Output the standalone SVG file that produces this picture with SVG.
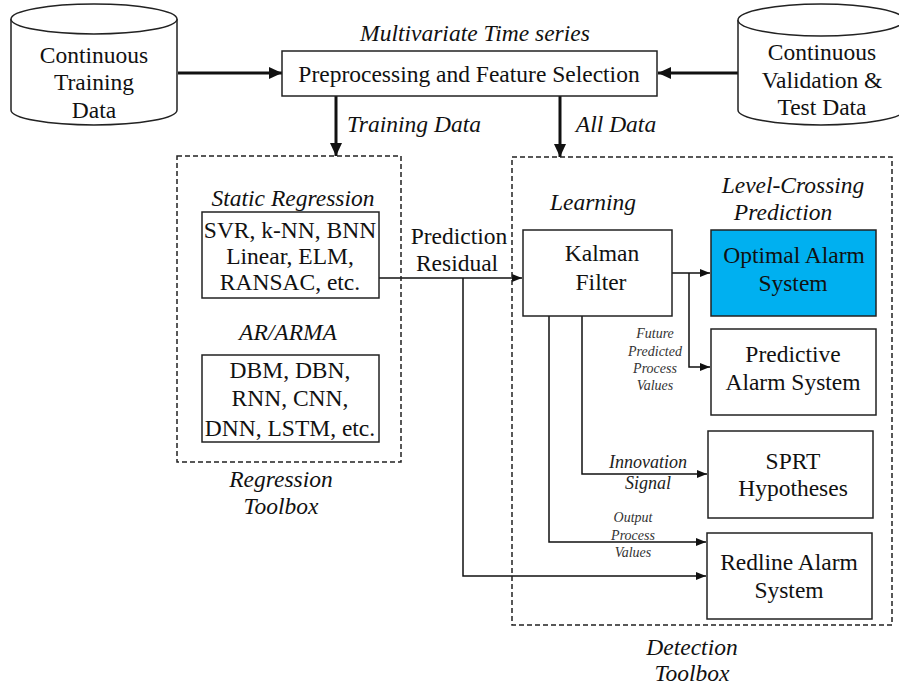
<svg xmlns="http://www.w3.org/2000/svg" width="899" height="685" viewBox="0 0 899 685" font-family="Liberation Serif, Times New Roman, serif">
<style>
text{fill:#111;text-anchor:middle}
.t{font-size:23.5px}
.i{font-style:italic}
.s{font-size:14px;font-style:italic;fill:#333}
.m{font-size:18px;font-style:italic;fill:#222}
.box{fill:#fff;stroke:#222;stroke-width:1.5}
.dash{fill:none;stroke:#222;stroke-width:1.5;stroke-dasharray:5 3}
.thick{fill:none;stroke:#111;stroke-width:3;marker-end:url(#bigArrow)}
.thin{fill:none;stroke:#111;stroke-width:1.5}
.arr{marker-end:url(#smallArrow)}
</style>
<defs>
<marker id="bigArrow" markerUnits="userSpaceOnUse" markerWidth="14" markerHeight="14" refX="13" refY="7" orient="auto">
<path d="M0,1 L13,7 L0,13 Z" fill="#111"/>
</marker>
<marker id="smallArrow" markerUnits="userSpaceOnUse" markerWidth="11" markerHeight="10" refX="10" refY="5" orient="auto">
<path d="M0,1 L10,5 L0,9 Z" fill="#111"/>
</marker>
</defs>
<rect width="899" height="685" fill="#fff"/>

<g id="connectors">
<line class="thick" x1="178" y1="73" x2="282" y2="73"/>
<line class="thick" x1="738" y1="73" x2="658" y2="73"/>
<line class="thick" x1="336" y1="96" x2="336" y2="156"/>
<line class="thick" x1="560" y1="96" x2="560" y2="157"/>
<polyline class="thin arr" points="379,278 522,278"/>
<polyline class="thin arr" points="463,278 463,576 706,576"/>
<polyline class="thin arr" points="672,273 710,273"/>
<polyline class="thin arr" points="689,273 689,367 710,367"/>
<polyline class="thin arr" points="582,316 582,474 707,474"/>
<polyline class="thin arr" points="549,316 549,542 706,542"/>
</g>

<g id="training-data">
<path d="M11,19 L11,110 A83,15 0 0 0 177,110 L177,19" class="box"/>
<ellipse cx="94" cy="19" rx="83" ry="15" class="box"/>
<text class="t" x="94" y="63">Continuous</text>
<text class="t" x="94" y="90">Training</text>
<text class="t" x="94" y="118">Data</text>
</g>

<g id="validation-data">
<path d="M738,20 L738,110 A83,15 0 0 0 904,110 L904,20" class="box"/>
<ellipse cx="821" cy="20" rx="83" ry="16" class="box"/>
<text class="t" x="822" y="60">Continuous</text>
<text class="t" x="822" y="88">Validation &amp;</text>
<text class="t" x="822" y="115">Test Data</text>
</g>

<g id="preprocessing">
<text class="t i" x="475" y="41">Multivariate Time series</text>
<rect class="box" x="282" y="51" width="375" height="45"/>
<text class="t" x="469" y="82">Preprocessing and Feature Selection</text>
</g>

<g id="edge-labels">
<text class="t i" x="414" y="132">Training Data</text>
<text class="t i" x="616" y="132">All Data</text>
<text class="t" x="459" y="244">Prediction</text>
<text class="t" x="457" y="271">Residual</text>
<text class="s" x="655" y="338">Future</text>
<text class="s" x="655" y="356">Predicted</text>
<text class="s" x="655" y="373">Process</text>
<text class="s" x="655" y="390">Values</text>
<text class="m" x="648" y="468">Innovation</text>
<text class="m" x="648" y="489">Signal</text>
<text class="s" x="633" y="522">Output</text>
<text class="s" x="633" y="540">Process</text>
<text class="s" x="633" y="557">Values</text>
</g>

<g id="regression-toolbox">
<rect class="dash" x="177" y="156" width="224" height="306"/>
<text class="t i" x="293" y="206">Static Regression</text>
<text class="t i" x="288" y="340">AR/ARMA</text>
<text class="t i" x="281" y="487">Regression</text>
<text class="t i" x="281" y="514">Toolbox</text>
</g>

<g id="static-regression">
<rect class="box" x="202" y="212" width="177" height="86"/>
<text class="t" x="290" y="238">SVR, k-NN, BNN</text>
<text class="t" x="290" y="264">Linear, ELM,</text>
<text class="t" x="290" y="290">RANSAC, etc.</text>
</g>

<g id="ar-arma">
<rect class="box" x="202" y="355" width="177" height="87"/>
<text class="t" x="290" y="378">DBM, DBN,</text>
<text class="t" x="290" y="406">RNN, CNN,</text>
<text class="t" x="290" y="436">DNN, LSTM, etc.</text>
</g>

<g id="detection-toolbox">
<rect class="dash" x="512" y="157" width="380" height="468"/>
<text class="t i" x="593" y="210">Learning</text>
<text class="t i" x="793" y="193">Level-Crossing</text>
<text class="t i" x="783" y="220">Prediction</text>
<text class="t i" x="692" y="655">Detection</text>
<text class="t i" x="692" y="681">Toolbox</text>
</g>

<g id="kalman">
<rect class="box" x="523" y="230" width="149" height="86"/>
<text class="t" x="602" y="261">Kalman</text>
<text class="t" x="601" y="290">Filter</text>
</g>

<g id="optimal-alarm">
<rect x="711" y="230" width="165" height="86" fill="#00B0F0" stroke="#222" stroke-width="1.5"/>
<text class="t" x="794" y="263">Optimal Alarm</text>
<text class="t" x="793" y="291">System</text>
</g>

<g id="predictive-alarm">
<rect class="box" x="711" y="329" width="165" height="86"/>
<text class="t" x="793" y="362">Predictive</text>
<text class="t" x="793" y="390">Alarm System</text>
</g>

<g id="sprt">
<rect class="box" x="708" y="431" width="165" height="87"/>
<text class="t" x="793" y="469">SPRT</text>
<text class="t" x="793" y="496">Hypotheses</text>
</g>

<g id="redline">
<rect class="box" x="707" y="533" width="165" height="86"/>
<text class="t" x="789" y="570">Redline Alarm</text>
<text class="t" x="789" y="598">System</text>
</g>
</svg>
